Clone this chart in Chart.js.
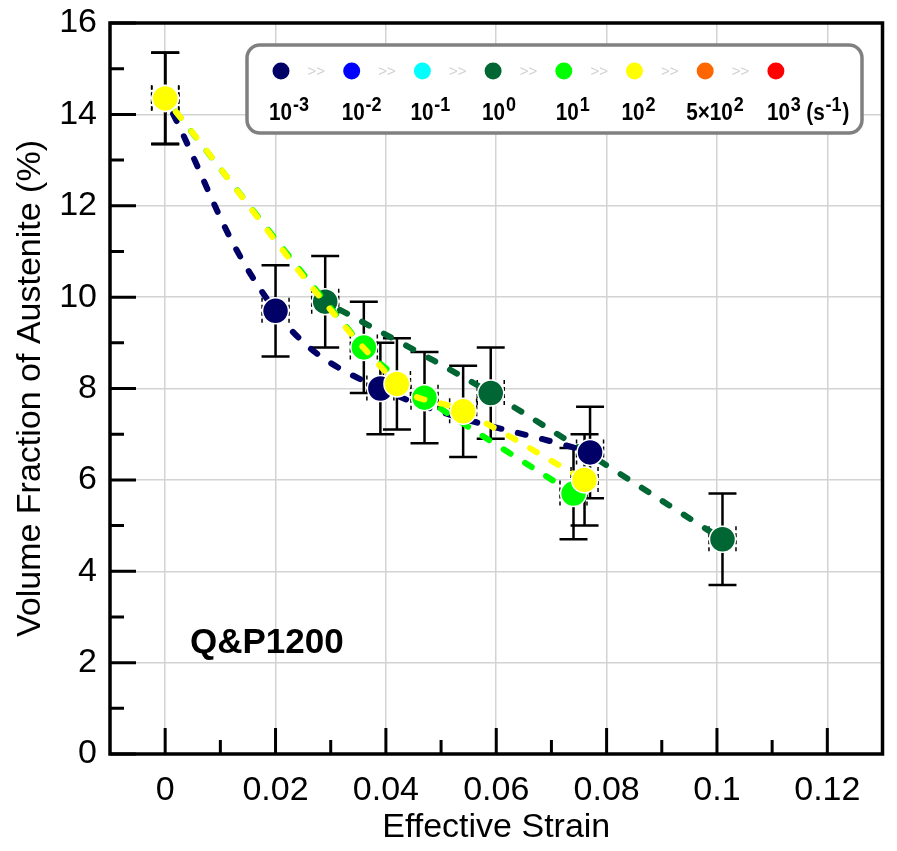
<!DOCTYPE html>
<html><head><meta charset="utf-8">
<script src="https://cdn.jsdelivr.net/npm/chart.js@4.4.0/dist/chart.umd.min.js"></script>
<style>html,body{margin:0;padding:0;background:#fff;}#wrap{width:897px;height:851px;}</style>
</head><body><div id="wrap"><canvas id="c" width="897" height="851"></canvas></div>
<script>
// ---- data ----
const xTicks = [0, 0.02, 0.04, 0.06, 0.08, 0.1, 0.12];
const xMinorTicks = [0.01, 0.03, 0.05, 0.07, 0.09, 0.11];
const yTicks = [0, 2, 4, 6, 8, 10, 12, 14, 16];
const yMinorTicks = [1, 3, 5, 7, 9, 11, 13, 15];

const rateBase = ["10", "10", "10", "10", "10", "10", "5×10", "10"];
const rateExp = ["-3", "-2", "-1", "0", "1", "2", "2", "3"];
const rateColors = ["#000066", "#0000ff", "#00ffff", "#006633", "#00ff00", "#ffff00", "#ff6600", "#ff0000"];

const navyStrain = [0, 0.02, 0.039, 0.077];
const navyVF = [14.35, 9.7, 8.0, 6.6];
const navyErr = [1, 1, 1, 1];

const dgreenStrain = [0.029, 0.059, 0.101];
const dgreenVF = [9.9, 7.9, 4.7];
const dgreenErr = [1, 1, 1];

const greenStrain = [0, 0.036, 0.047, 0.074];
const greenVF = [14.35, 8.9, 7.8, 5.7];
const greenErr = [1, 1, 1, 1];

const yellowStrain = [0, 0.042, 0.054, 0.076];
const yellowVF = [14.35, 8.1, 7.5, 6.0];
const yellowErr = [1, 1, 1, 1];

const FONT = "'Liberation Sans', Arial, sans-serif";

function mk(xs, ys, errs, color, order, tension) {
  return {
    data: xs.map((x, i) => ({x: x, y: ys[i]})),
    err: errs,
    showLine: true,
    tension: tension,
    borderColor: color,
    borderWidth: 6,
    borderDash: [8, 17],
    borderDashOffset: 8,
    borderCapStyle: 'round',
    backgroundColor: color,
    pointBackgroundColor: color,
    pointBorderColor: '#ffffff',
    pointBorderWidth: 1.5,
    pointRadius: 13,
    pointHoverRadius: 13,
    order: order
  };
}

const errPlugin = {
  id: 'errbars',
  beforeDatasetsDraw(chart) {
    const ctx = chart.ctx, xs = chart.scales.x, ys = chart.scales.y;
    ctx.save();
    chart.data.datasets.forEach(ds => {
      ds.data.forEach((p, i) => {
        const e = ds.err[i];
        const px = xs.getPixelForValue(p.x);
        const py = ys.getPixelForValue(p.y);
        const top = ys.getPixelForValue(p.y + e);
        const bot = ys.getPixelForValue(p.y - e);
        ctx.strokeStyle = '#000';
        ctx.lineWidth = 2.5;
        ctx.setLineDash([]);
        ctx.beginPath();
        ctx.moveTo(px, top); ctx.lineTo(px, bot);
        ctx.moveTo(px - 14, top); ctx.lineTo(px + 14, top);
        ctx.moveTo(px - 14, bot); ctx.lineTo(px + 14, bot);
        ctx.stroke();
        ctx.lineWidth = 1.5;
        ctx.setLineDash([4, 3]);
        ctx.beginPath();
        ctx.moveTo(px - 13.5, py - 13); ctx.lineTo(px - 13.5, py + 13);
        ctx.moveTo(px + 13.5, py - 13); ctx.lineTo(px + 13.5, py + 13);
        ctx.stroke();
      });
    });
    ctx.restore();
  }
};

const framePlugin = {
  id: 'frame',
  afterDraw(chart) {
    const ctx = chart.ctx, a = chart.chartArea, xs = chart.scales.x, ys = chart.scales.y;
    ctx.save();
    ctx.setLineDash([]);
    ctx.strokeStyle = '#000';
    ctx.lineWidth = 3;
    ctx.beginPath();
    xTicks.forEach(v => { const px = xs.getPixelForValue(v); ctx.moveTo(px, a.bottom); ctx.lineTo(px, a.bottom - 26); });
    xMinorTicks.forEach(v => { const px = xs.getPixelForValue(v); ctx.moveTo(px, a.bottom); ctx.lineTo(px, a.bottom - 14); });
    yTicks.forEach(v => { const py = ys.getPixelForValue(v); ctx.moveTo(a.left, py); ctx.lineTo(a.left + 26, py); });
    yMinorTicks.forEach(v => { const py = ys.getPixelForValue(v); ctx.moveTo(a.left, py); ctx.lineTo(a.left + 14, py); });
    ctx.stroke();
    ctx.lineWidth = 3.5;
    ctx.strokeRect(a.left, a.top, a.right - a.left, a.bottom - a.top);

    // sample label
    ctx.fillStyle = '#000';
    ctx.font = "bold 35px " + FONT;
    ctx.textAlign = 'left';
    ctx.textBaseline = 'alphabetic';
    ctx.fillText('Q&P1200', 190, 653);

    // legend box
    const bx = 247, by = 45, bw = 615, bh = 88, r = 13;
    ctx.beginPath();
    ctx.moveTo(bx + r, by);
    ctx.arcTo(bx + bw, by, bx + bw, by + bh, r);
    ctx.arcTo(bx + bw, by + bh, bx, by + bh, r);
    ctx.arcTo(bx, by + bh, bx, by, r);
    ctx.arcTo(bx, by, bx + bw, by, r);
    ctx.closePath();
    ctx.fillStyle = '#fff';
    ctx.fill();
    ctx.strokeStyle = '#808080';
    ctx.lineWidth = 3.5;
    ctx.stroke();

    const cx0 = 281, dx = 70.7, cy = 71;
    const labelOff = [-12, -10, -12, -11, -8, -13, -19, -9];
    rateColors.forEach((c, i) => {
      const cx = cx0 + dx * i;
      ctx.fillStyle = c;
      ctx.beginPath(); ctx.arc(cx, cy, 8.5, 0, Math.PI * 2); ctx.fill();
      if (i < rateColors.length - 1) {
        ctx.fillStyle = '#d0d0d0';
        ctx.font = "15px " + FONT;
        ctx.textAlign = 'center';
        ctx.textBaseline = 'middle';
        ctx.fillText('>>', cx + dx / 2, cy + 1);
      }
      // label
      let lx = cx + labelOff[i];
      ctx.save();
      ctx.translate(lx, 120);
      ctx.scale(0.9, 1);
      ctx.fillStyle = '#000';
      ctx.textAlign = 'left';
      ctx.textBaseline = 'alphabetic';
      ctx.font = "bold 23px " + FONT;
      let w = ctx.measureText(rateBase[i]).width;
      ctx.fillText(rateBase[i], 0, 0);
      ctx.font = "bold 20px " + FONT;
      ctx.fillText(rateExp[i], w + 1, -9);
      let w2 = ctx.measureText(rateExp[i]).width;
      if (i === rateColors.length - 1) {
        let xx = w + 1 + w2 + 6;
        ctx.font = "bold 23px " + FONT;
        ctx.fillText('(s', xx, 0);
        xx += ctx.measureText('(s').width;
        ctx.font = "bold 20px " + FONT;
        ctx.fillText('-1', xx + 1, -9);
        xx += ctx.measureText('-1').width + 2;
        ctx.font = "bold 23px " + FONT;
        ctx.fillText(')', xx, 0);
      }
      ctx.restore();
    });
    ctx.restore();
  }
};

new Chart(document.getElementById('c'), {
  type: 'scatter',
  data: {
    datasets: [
      mk(yellowStrain, yellowVF, yellowErr, '#ffff00', 1, 0.4),
      mk(greenStrain, greenVF, greenErr, '#00ff00', 2, 0.28),
      mk(navyStrain, navyVF, navyErr, '#000066', 3, 0.4),
      mk(dgreenStrain, dgreenVF, dgreenErr, '#006633', 4, 0.3)
    ]
  },
  options: {
    responsive: false,
    animation: false,
    devicePixelRatio: 1,
    layout: {padding: {top: 23, right: 9, left: 0, bottom: 0}},
    plugins: {legend: {display: false}, tooltip: {enabled: false}},
    events: [],
    scales: {
      x: {
        type: 'linear', min: -0.01, max: 0.13,
        afterBuildTicks: s => { s.ticks = xTicks.map(v => ({value: v})); },
        afterFit: s => { s.height = 97; s.paddingLeft = 0; s.paddingRight = 0; },
        grid: {color: '#d3d3d3', lineWidth: 1.5, drawTicks: false},
        border: {display: false},
        ticks: {
          color: '#000', padding: 16, maxRotation: 0, autoSkip: false,
          font: {family: FONT, size: 34},
          callback: v => String(Math.round(v * 100) / 100)
        },
        title: {display: true, text: 'Effective Strain', color: '#000',
                font: {family: FONT, size: 34}, padding: {top: 0, bottom: 3}}
      },
      y: {
        type: 'linear', min: 0, max: 16,
        afterBuildTicks: s => { s.ticks = yTicks.map(v => ({value: v})); },
        afterFit: s => { s.width = 110; s.paddingTop = 0; s.paddingBottom = 0; },
        grid: {color: '#d3d3d3', lineWidth: 1.5, drawTicks: false},
        border: {display: false},
        ticks: {color: '#000', padding: 13, font: {family: FONT, size: 34}},
        title: {display: true, text: 'Volume Fraction of Austenite (%)', color: '#000',
                font: {family: FONT, size: 34}, padding: {top: 10, bottom: 0}}
      }
    }
  },
  plugins: [errPlugin, framePlugin]
});
</script>
</body></html>
